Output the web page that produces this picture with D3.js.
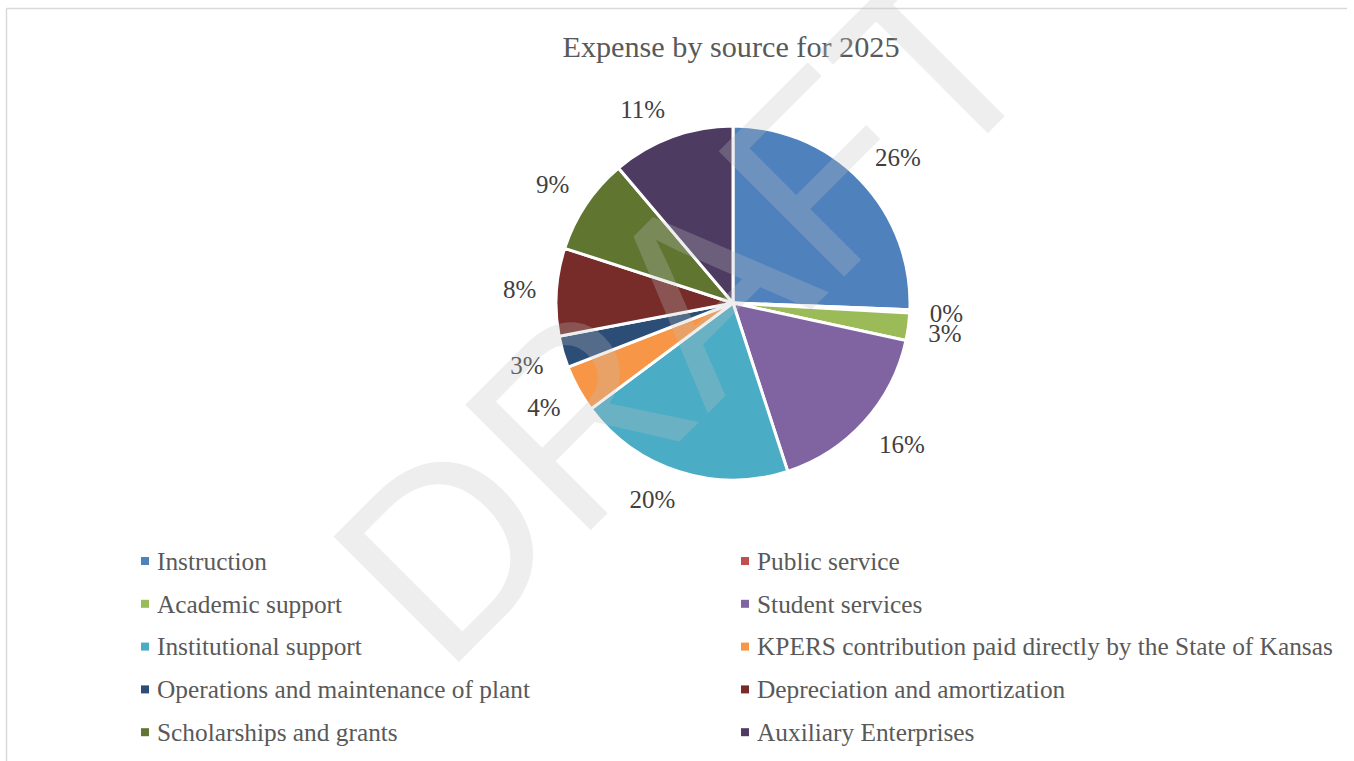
<!DOCTYPE html>
<html>
<head>
<meta charset="utf-8">
<script src="https://cdn.jsdelivr.net/npm/d3@7"></script>
<style>
  body { margin: 0; background: #fff; }
  svg { display: block; }
</style>
</head>
<body>
<div id="chart"></div>
<script>
// data (share of total expense, %)
var categories = ["Instruction", "Public service", "Academic support", "Student services",
  "Institutional support", "KPERS contribution paid directly by the State of Kansas",
  "Operations and maintenance of plant", "Depreciation and amortization",
  "Scholarships and grants", "Auxiliary Enterprises"];
var values = [25.6, 0.3, 2.5, 16.6, 19.8, 4.3, 2.9, 8.0, 8.8, 11.2];
var labels = ["26%", "0%", "3%", "16%", "20%", "4%", "3%", "8%", "9%", "11%"];
var colors = ["#4F81BD", "#C0504D", "#9BBB59", "#8064A2", "#4BACC6",
  "#F79646", "#2C4D75", "#772C2A", "#5F7530", "#4D3B62"];
var title = "Expense by source for 2025";

var W = 1354, H = 761;
var cx = 733, cy = 303, R = 177;

var svg = d3.select("#chart").append("svg")
  .attr("width", W).attr("height", H);

// chart frame (only top and left edges show)
svg.append("line").attr("x1", 6.5).attr("x2", 1347).attr("y1", 8.5).attr("y2", 8.5)
  .attr("stroke", "#d9d9d9").attr("stroke-width", 1.5);
svg.append("line").attr("x1", 6.5).attr("x2", 6.5).attr("y1", 8.5).attr("y2", H)
  .attr("stroke", "#d9d9d9").attr("stroke-width", 1.5);

svg.append("text")
  .attr("x", 731).attr("y", 57)
  .attr("text-anchor", "middle")
  .attr("font-family", "'Liberation Serif', 'Times New Roman', serif")
  .attr("font-size", "30.2px")
  .attr("fill", "#595959")
  .text(title);

var data = categories.map(function(c, i) { return { name: c, value: values[i], label: labels[i], color: colors[i] }; });

var pie = d3.pie().sort(null).value(function(d) { return d.value; });
var arc = d3.arc().innerRadius(0).outerRadius(R);
var arcs = pie(data);

var g = svg.append("g").attr("transform", "translate(" + cx + "," + cy + ")");

g.selectAll("path.slice")
  .data(arcs)
  .enter().append("path")
  .attr("class", "slice")
  .attr("d", arc)
  .attr("fill", function(d) { return d.data.color; })
  .attr("stroke", "#fff")
  .attr("stroke-width", 3)
  .attr("stroke-linejoin", "round");

// outside-end labels: nearest box edge sits just outside the rim
var gap = 20;
function clamp1(v) { return Math.max(-1, Math.min(1, v)); }
g.selectAll("text.lbl")
  .data(arcs)
  .enter().append("text")
  .attr("class", "lbl")
  .attr("font-family", "'Liberation Serif', 'Times New Roman', serif")
  .attr("font-size", "25px")
  .attr("fill", "#404040")
  .attr("text-anchor", "middle")
  .attr("dy", "0.35em")
  .text(function(d) { return d.data.label; })
  .each(function(d) {
    var a = (d.startAngle + d.endAngle) / 2;
    var w = this.getComputedTextLength(), h = 18;
    var s = Math.sin(a), c = Math.cos(a);
    var x = (R + gap) * s + (w / 2) * clamp1(3 * s);
    var y = -(R + gap) * c - (h / 2) * clamp1(3 * c);
    d3.select(this).attr("x", x).attr("y", y);
  });

// legend, two columns
var legend = svg.append("g");
var rows = legend.selectAll("g.item")
  .data(data)
  .enter().append("g")
  .attr("class", "item")
  .attr("transform", function(d, i) {
    var col = i % 2, row = Math.floor(i / 2);
    return "translate(" + (col ? 745 : 145) + "," + (561 + row * 42.8) + ")";
  });
rows.append("rect")
  .attr("x", -4).attr("y", -4).attr("width", 8).attr("height", 8)
  .attr("fill", function(d) { return d.color; });
rows.append("text")
  .attr("x", 12).attr("dy", "0.35em")
  .attr("font-family", "'Liberation Serif', 'Times New Roman', serif")
  .attr("font-size", "25.35px")
  .attr("fill", "#595959")
  .text(function(d) { return d.name; });

// DRAFT watermark
svg.append("text")
  .attr("transform", "translate(444,677) rotate(-45)")
  .attr("font-family", "'Liberation Sans', Arial, sans-serif")
  .attr("font-size", "258px")
  .attr("fill", "rgb(191,191,191)")
  .attr("fill-opacity", 0.27)
  .text("DRAFT");
</script>
</body>
</html>
